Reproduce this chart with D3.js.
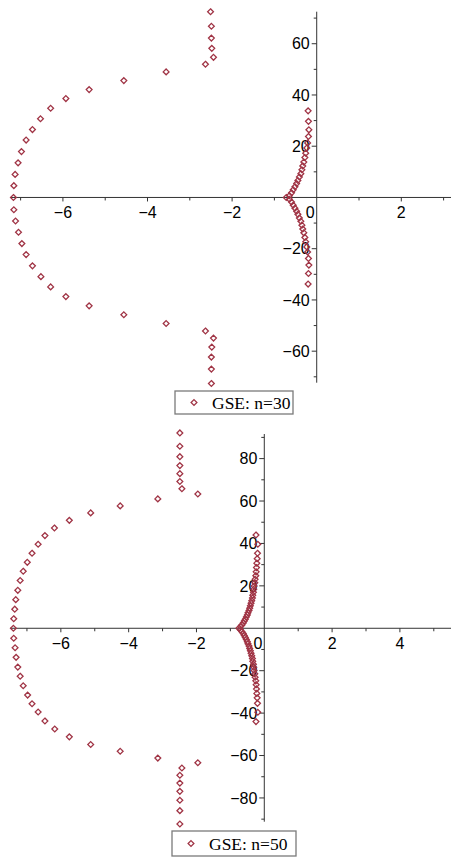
<!DOCTYPE html>
<html lang="en">
<head>
<meta charset="UTF-8">
<title>GSE roots</title>
<script src="https://d3js.org/d3.v7.min.js"></script>
<style>
  body { margin: 0; background: #fff; }
  svg { display: block; }
</style>
</head>
<body>
<svg id="svg_main"></svg>
<script>
// n=30, outer branch (top to bottom) and inner branch, [re, im]
const gse30OuterUpper = [[-2.51, 72.5], [-2.49, 66.8], [-2.49, 62.2], [-2.48, 58.2], [-2.44, 54.7], [-2.63, 52.0],
  [-3.56, 49.0], [-4.56, 45.6], [-5.38, 42.1], [-5.93, 38.6], [-6.29, 34.8], [-6.53, 30.7], [-6.72, 26.5],
  [-6.87, 22.4], [-6.98, 17.9], [-7.06, 13.5], [-7.13, 9.0], [-7.16, 4.6], [-7.17, 0]];
const gse30OuterLower = [[-7.16, -4.8], [-7.12, -9.2], [-7.05, -13.6], [-6.97, -18.0], [-6.87, -22.3], [-6.72, -26.7],
  [-6.52, -30.9], [-6.29, -34.9], [-5.93, -38.7], [-5.38, -42.3], [-4.56, -45.8], [-3.56, -49.2], [-2.63, -52.1],
  [-2.44, -54.9], [-2.48, -58.4], [-2.49, -62.3], [-2.49, -67.0], [-2.49, -72.6]];
const gse30InnerUpper = [[-0.72, 0], [-0.645, 0.7], [-0.595, 1.8], [-0.555, 3.0], [-0.515, 4.2], [-0.475, 5.4],
  [-0.445, 6.6], [-0.41, 8.0], [-0.375, 9.3], [-0.35, 10.8], [-0.33, 12.3], [-0.305, 13.8], [-0.28, 15.6],
  [-0.26, 17.3], [-0.235, 19.3], [-0.215, 21.3], [-0.195, 23.8], [-0.185, 26.4], [-0.195, 29.7], [-0.203, 33.8]];
const gse30InnerLower = [[-0.645, -0.7], [-0.595, -1.8], [-0.555, -3.0], [-0.515, -4.2], [-0.475, -5.4],
  [-0.445, -6.6], [-0.41, -8.0], [-0.375, -9.3], [-0.35, -10.8], [-0.33, -12.3], [-0.305, -13.8], [-0.28, -15.6],
  [-0.26, -17.3], [-0.235, -19.3], [-0.215, -21.3], [-0.195, -23.8], [-0.185, -26.4], [-0.195, -29.7], [-0.203, -33.8]];

// n=50
const gse50OuterUpper = [[-2.49, 92.1], [-2.49, 85.8], [-2.49, 80.9], [-2.49, 76.7], [-2.49, 72.9], [-2.49, 69.2],
  [-2.43, 65.8], [-1.96, 63.3], [-3.14, 61.0], [-4.25, 57.7], [-5.12, 54.4], [-5.75, 50.9], [-6.19, 47.3],
  [-6.47, 43.7], [-6.67, 39.6], [-6.85, 35.4], [-6.99, 31.1], [-7.11, 26.9], [-7.20, 22.5], [-7.27, 17.9],
  [-7.33, 13.5], [-7.36, 9.0], [-7.39, 4.5], [-7.40, 0]];
const gse50OuterLower = [[-7.39, -4.7], [-7.35, -9.2], [-7.32, -13.7], [-7.27, -18.3], [-7.20, -22.6], [-7.11, -27.1],
  [-6.98, -31.5], [-6.85, -35.6], [-6.67, -39.5], [-6.47, -43.7], [-6.18, -47.5], [-5.75, -51.2], [-5.12, -54.8],
  [-4.25, -58.0], [-3.14, -61.2], [-1.96, -63.4], [-2.43, -65.9], [-2.49, -69.3], [-2.49, -73.0], [-2.49, -76.9],
  [-2.49, -81.1], [-2.49, -86.0], [-2.49, -92.3]];
const gse50InnerUpper = [[-0.75, 0], [-0.70, 0.8], [-0.66, 1.6], [-0.62, 2.5], [-0.59, 3.4], [-0.56, 4.3],
  [-0.53, 5.3], [-0.50, 6.3], [-0.48, 7.3], [-0.45, 8.4], [-0.43, 9.5], [-0.41, 10.6], [-0.39, 11.8], [-0.37, 13.0],
  [-0.35, 14.3], [-0.34, 15.6], [-0.32, 17.0], [-0.31, 18.4], [-0.30, 19.9], [-0.28, 21.5], [-0.27, 23.1],
  [-0.25, 24.8], [-0.24, 26.6], [-0.23, 28.6], [-0.22, 30.7], [-0.21, 32.8], [-0.20, 35.4], [-0.19, 39.6], [-0.245, 44.0]];
const gse50InnerLower = [[-0.70, -0.8], [-0.66, -1.6], [-0.62, -2.5], [-0.59, -3.4], [-0.56, -4.3],
  [-0.53, -5.3], [-0.50, -6.3], [-0.48, -7.3], [-0.45, -8.4], [-0.43, -9.5], [-0.41, -10.6], [-0.39, -11.8], [-0.37, -13.0],
  [-0.35, -14.3], [-0.34, -15.6], [-0.32, -17.0], [-0.31, -18.4], [-0.30, -19.9], [-0.28, -21.5], [-0.27, -23.1],
  [-0.25, -24.8], [-0.24, -26.6], [-0.23, -28.6], [-0.22, -30.7], [-0.21, -32.8], [-0.20, -35.4], [-0.19, -39.6], [-0.245, -44.0]];

// ticks
const xLabels30 = [-6, -4, -2, 0, 2];
const xMinor30 = [-7, -6, -5, -4, -3, -2, -1, 1, 2, 3];
const yLabels30 = [-60, -40, -20, 20, 40, 60];
const yMinor30 = [-70, -60, -50, -40, -30, -20, -10, 10, 20, 30, 40, 50, 60, 70];
const xLabels50 = [-6, -4, -2, 0, 2, 4];
const xMinor50 = [-7, -6, -5, -4, -3, -2, -1, 1, 2, 3, 4, 5];
const yLabels50 = [-80, -60, -40, -20, 20, 40, 60, 80];
const yMinor50 = [-90, -80, -70, -60, -50, -40, -30, -20, -10, 10, 20, 30, 40, 50, 60, 70, 80, 90];

const legendNames = ["GSE: n=30", "GSE: n=50"];

const W = 451, H = 859;
const markColor = "#a03445";
const axisColor = "#333";

const svg = d3.select("#svg_main").attr("width", W).attr("height", H);

const diamond = r => `M0,${-r}L${r},0L0,${r}L${-r},0Z`;
const fmt = v => v < 0 ? "\u2212" + Math.abs(v) : String(v);

function panel(cfg) {
    const x = d3.scaleLinear().domain(cfg.xDomain).range([10, W]);
    const y = d3.scaleLinear().domain(cfg.yDomain).range(cfg.yRange);
    const g = svg.append("g");
    const x0 = x(0), y0 = y(0);

    // axes lines
    g.append("line").attr("x1", x.range()[0]).attr("x2", x.range()[1])
        .attr("y1", y0).attr("y2", y0).attr("stroke", axisColor).attr("stroke-width", 1);
    g.append("line").attr("x1", x0).attr("x2", x0)
        .attr("y1", y.range()[0]).attr("y2", y.range()[1]).attr("stroke", axisColor).attr("stroke-width", 1);

    // ticks
    g.selectAll(".xt").data(cfg.xMinor).enter().append("line")
        .attr("x1", d => x(d)).attr("x2", d => x(d))
        .attr("y1", y0).attr("y2", d => y0 + (d % 2 === 0 ? 4 : 3))
        .attr("stroke", axisColor);
    g.selectAll(".yt").data(cfg.yMinor).enter().append("line")
        .attr("y1", d => y(d)).attr("y2", d => y(d))
        .attr("x1", x0).attr("x2", d => x0 - (d % 20 === 0 ? 5 : 3))
        .attr("stroke", axisColor);

    // tick labels
    g.selectAll(".xl").data(cfg.xLabels).enter().append("text")
        .attr("x", d => d === 0 ? x0 - 2 : x(d))
        .attr("y", y0 + 21)
        .attr("text-anchor", d => d === 0 ? "end" : "middle")
        .attr("font-family", "Liberation Sans, Arial, sans-serif")
        .attr("font-size", 16)
        .text(fmt);
    g.selectAll(".yl").data(cfg.yLabels).enter().append("text")
        .attr("x", x0 - 7)
        .attr("y", d => y(d))
        .attr("dy", "0.36em")
        .attr("text-anchor", "end")
        .attr("font-family", "Liberation Sans, Arial, sans-serif")
        .attr("font-size", 16)
        .text(fmt);

    // points
    const pts = cfg.series.flat();
    g.selectAll(".pt").data(pts).enter().append("path")
        .attr("transform", d => `translate(${x(d[0])},${y(d[1])})`)
        .attr("d", diamond(2.9))
        .attr("fill", "none")
        .attr("stroke", markColor)
        .attr("stroke-width", 1.3);

    // legend
    const lg = svg.append("g").attr("transform", `translate(${cfg.legend[0]},${cfg.legend[1]})`);
    lg.append("rect").attr("width", cfg.legend[2]).attr("height", cfg.legend[3])
        .attr("fill", "#fff").attr("stroke", "#7a7a7a").attr("stroke-width", 1.3);
    lg.append("path").attr("transform", `translate(19,${cfg.legend[3] / 2})`)
        .attr("d", diamond(2.9)).attr("fill", "none").attr("stroke", markColor).attr("stroke-width", 1.3);
    lg.append("text").attr("x", 37).attr("y", cfg.legend[3] / 2 + 6)
        .attr("font-family", "Liberation Serif, Times New Roman, serif")
        .attr("font-size", 17.5)
        .text(cfg.name);
}

panel({
    xDomain: [-7.251, 3.175], yDomain: [-72.3, 72.5], yRange: [382.7, 11.7],
    xLabels: xLabels30, xMinor: xMinor30, yLabels: yLabels30, yMinor: yMinor30,
    series: [gse30OuterUpper, gse30OuterLower, gse30InnerUpper, gse30InnerLower],
    legend: [175, 391, 118, 23], name: legendNames[0]
});
panel({
    xDomain: [-7.50, 5.507], yDomain: [-91.2, 91.6], yRange: [821.7, 434],
    xLabels: xLabels50, xMinor: xMinor50, yLabels: yLabels50, yMinor: yMinor50,
    series: [gse50OuterUpper, gse50OuterLower, gse50InnerUpper, gse50InnerLower],
    legend: [172, 831, 124, 25], name: legendNames[1]
});
</script>
</body>
</html>
